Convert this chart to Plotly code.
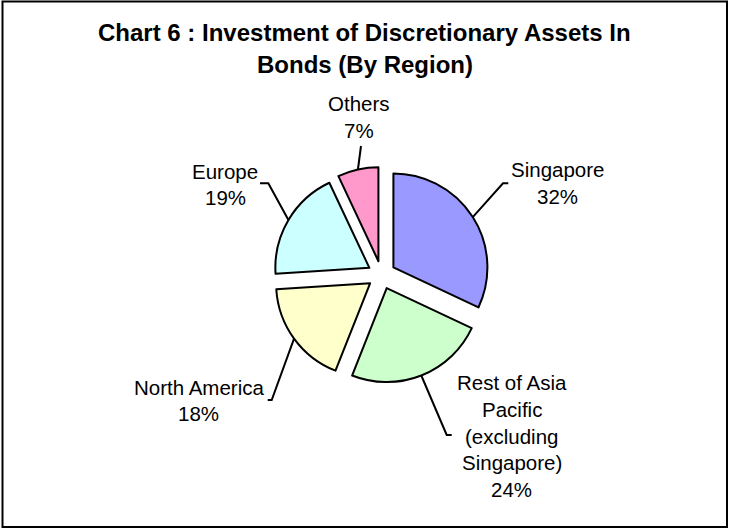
import math
import plotly.graph_objects as go

# ---------------- data ----------------
categories = ["Singapore", "Rest of Asia Pacific (excluding Singapore)",
              "North America", "Europe", "Others"]
label_lines = [["Singapore"], ["Rest of Asia", "Pacific", "(excluding", "Singapore)"],
               ["North America"], ["Europe"], ["Others"]]
values = [32, 24, 18, 19, 7]
colors = ["#9999FF", "#CCFFCC", "#FFFFCC", "#CCFFFF", "#FF99CC"]
title_lines = ["Chart 6 : Investment of Discretionary Assets In", "Bonds (By Region)"]

# ---------------- layout / style ----------------
W, H = 729, 529
CX, CY = 381.5, 275.0      # pie centre (px, from top-left)
R = 94.0                   # pie radius (px)
PULL = 0.15
FONT = "Arial, Liberation Sans, sans-serif"
LABEL_SIZE = 20.5
LINE_H = 26.8
TITLE_SIZE = 24
# label block anchor: (centre x, first line centre y), leader elbow & end (px)
LABEL_STYLE = [
    dict(pos=(557.5, 170.0), elbow=(503.0, 183.3), end=(508.3, 183.3)),
    dict(pos=(511.5, 382.5), elbow=(446.7, 435.0), end=(451.7, 435.0)),
    dict(pos=(198.5, 387.0), elbow=(271.7, 400.0), end=(267.7, 400.0)),
    dict(pos=(225.0, 171.0), elbow=(268.3, 183.3), end=(260.0, 183.3)),
    dict(pos=(359.0, 103.5), elbow=(361.0, 146.0), end=(361.0, 146.0)),
]


def px(x):
    return x / W


def py(y):
    return 1 - y / H


half = R * (1 + PULL)
fig = go.Figure(go.Pie(
    labels=categories, values=values, sort=False, direction="clockwise",
    rotation=0, pull=[PULL] * len(values), textinfo="none", hoverinfo="label+percent",
    marker=dict(colors=colors, line=dict(color="black", width=2)),
    domain=dict(x=[px(CX - half), px(CX + half)], y=[py(CY + half), py(CY - half)]),
    showlegend=False,
))

total = sum(values)
annotations = []
shapes = []
cum = 0
for i, v in enumerate(values):
    theta = math.radians((cum + v / 2) / total * 360)
    cum += v
    rr = R * (1 + PULL)
    sx = CX + rr * math.sin(theta)
    sy = CY - rr * math.cos(theta)
    st = LABEL_STYLE[i]
    ex, ey = st["elbow"]
    nx, ny = st["end"]
    shapes.append(dict(type="path", xref="paper", yref="paper",
                       path=f"M {px(sx)},{py(sy)} L {px(ex)},{py(ey)} L {px(nx)},{py(ny)}",
                       line=dict(color="black", width=2)))
    lines = label_lines[i] + [f"{round(v / total * 100)}%"]
    lx, ly = st["pos"]
    for k, t in enumerate(lines):
        annotations.append(dict(text=t, x=px(lx), y=py(ly + k * LINE_H), xref="paper", yref="paper",
                                xanchor="center", yanchor="middle", showarrow=False,
                                font=dict(family=FONT, size=LABEL_SIZE, color="black")))

for k, t in enumerate(title_lines):
    annotations.append(dict(text=f"<b>{t}</b>", x=0.5, y=py(32 + k * 32.5), xref="paper", yref="paper",
                            xanchor="center", yanchor="middle", showarrow=False,
                            font=dict(family=FONT, size=TITLE_SIZE, color="black")))

shapes.append(dict(type="rect", xref="paper", yref="paper",
                   x0=px(2.5), x1=px(727.0), y0=py(527.0), y1=py(1.5),
                   line=dict(color="black", width=2), fillcolor="rgba(0,0,0,0)"))

fig.update_layout(width=W, height=H, autosize=False, margin=dict(l=0, r=0, t=0, b=0),
                  paper_bgcolor="white", plot_bgcolor="white",
                  annotations=annotations, shapes=shapes)
fig.write_html("out.html", config={"displayModeBar": False},
               post_script="document.body.style.margin='0';"
                           "document.documentElement.style.overflow='hidden';")
